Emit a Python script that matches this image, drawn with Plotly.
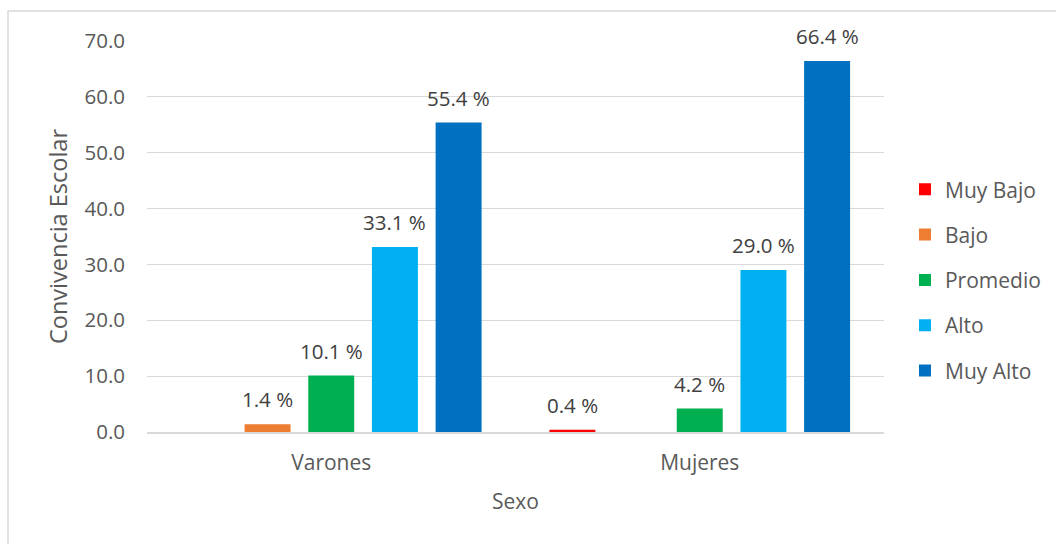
import plotly.graph_objects as go

# Categories and series values (percent)
categorias = ["Varones", "Mujeres"]
niveles = ["Muy Bajo", "Bajo", "Promedio", "Alto", "Muy Alto"]
valores = {
    "Muy Bajo": [0.0, 0.4],
    "Bajo": [1.4, 0.0],
    "Promedio": [10.1, 4.2],
    "Alto": [33.1, 29.0],
    "Muy Alto": [55.4, 66.4],
}
colores = {
    "Muy Bajo": "#FF0000",
    "Bajo": "#ED7D31",
    "Promedio": "#00B050",
    "Alto": "#00B0F0",
    "Muy Alto": "#0070C0",
}
ticks_y = [0, 10, 20, 30, 40, 50, 60, 70]

FONT = "Open Sans"

fig = go.Figure()
for i, nivel in enumerate(niveles):
    fig.add_trace(go.Bar(
        name=nivel,
        x=categorias,
        y=valores[nivel],
        marker=dict(color=colores[nivel], line=dict(width=0)),
        offsetgroup=str(i),
        legendgroup=nivel,
        hoverinfo="x+y+name",
    ))

# Value labels above each non-zero bar
n = len(niveles)
for i, nivel in enumerate(niveles):
    for j, cat in enumerate(categorias):
        v = valores[nivel][j]
        if v <= 0:
            continue
        fig.add_annotation(
            x=cat, y=v, xref="x", yref="y",
            text=f"{v:.1f} %",
            showarrow=False, yanchor="bottom",
            xshift=(i - (n - 1) / 2) * 63.7,
            yshift=9,
            font=dict(family=FONT, size=20.5, color="#404040"),
        )

# Outer chart frame
fig.add_shape(
    type="rect", xref="paper", yref="paper",
    x0=-0.1886, x1=1.25, y0=-0.31, y1=1.0767,
    line=dict(color="#D9D9D9", width=1.5), fillcolor="rgba(0,0,0,0)",
    layer="below",
)

fig.update_layout(
    width=1056, height=544,
    margin=dict(l=147, r=172, t=41, b=112, autoexpand=False),
    paper_bgcolor="white", plot_bgcolor="white",
    barmode="group",
    bargap=0.136,
    bargroupgap=0.278,
    font=dict(family=FONT, size=20.5, color="#595959"),
    showlegend=True,
    legend=dict(
        xref="container", yref="container",
        x=0.857, xanchor="left", y=0.485, yanchor="middle",
        traceorder="grouped", tracegroupgap=15,
        font=dict(family=FONT, size=21, color="#595959"),
        itemclick=False,
    ),
    xaxis=dict(
        showgrid=False, showline=True, linecolor="#D9D9D9", linewidth=1.5,
        ticks="", ticklabelstandoff=11,
        tickfont=dict(family=FONT, size=21, color="#595959"),
        title=dict(text="Sexo", font=dict(family=FONT, size=21, color="#595959"), standoff=19),
    ),
    yaxis=dict(
        range=[0, 70], tickvals=ticks_y, tickformat=".1f",
        showgrid=True, gridcolor="#D9D9D9", gridwidth=1,
        zeroline=False, showline=False, ticks="", ticklabelstandoff=21,
        tickfont=dict(family=FONT, size=20.5, color="#595959"),
        title=dict(text="Convivencia Escolar", font=dict(family=FONT, size=23.5, color="#595959"), standoff=10),
    ),
)

fig.write_html("out.html")
